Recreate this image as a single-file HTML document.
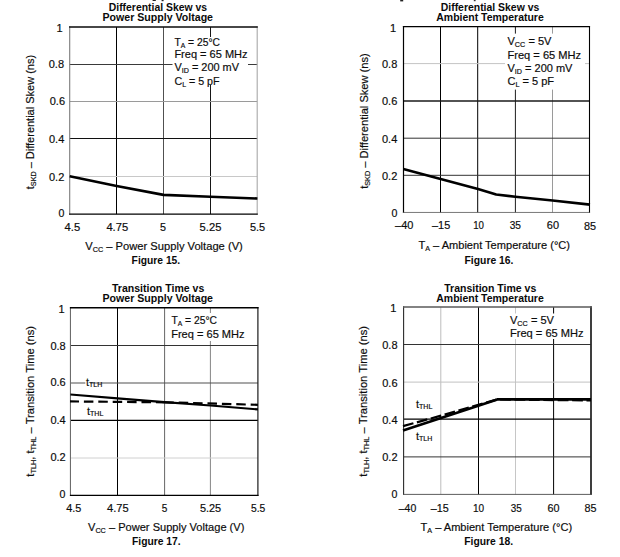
<!DOCTYPE html>
<html><head><meta charset="utf-8"><title>Figures 15-18</title>
<style>
html,body{margin:0;padding:0;background:#fff;}
svg{display:block;font-family:"Liberation Sans", sans-serif;}
text{fill:#0c0c0c}
.r{font-size:11px;stroke:#0c0c0c;stroke-width:0.18px}
.b{font-size:10.5px;font-weight:bold;fill:#0a0a0a}
.s{font-size:7.2px}
.cv{fill:none;stroke:#000;stroke-linejoin:round;stroke-linecap:butt}
</style></head><body>
<svg width="620" height="557" viewBox="0 0 620 557">
<rect width="620" height="557" fill="#fff"/>
<rect x="152.6" y="0" width="3.2" height="1" fill="#222"/><rect x="161.6" y="0" width="2" height="1.2" fill="#222"/>
<rect x="400.2" y="0" width="3" height="1.4" fill="#222"/><rect x="473.8" y="0" width="1.8" height="1.2" fill="#333"/>
<!-- Figure 15 -->
<line x1="116.5" y1="27.0" x2="116.5" y2="214.1" stroke="#000" stroke-width="1.0"/>
<line x1="163.5" y1="27.0" x2="163.5" y2="214.1" stroke="#505050" stroke-width="1.0"/>
<line x1="210.5" y1="27.0" x2="210.5" y2="214.1" stroke="#161616" stroke-width="1.0"/>
<line x1="69.7" y1="64.5" x2="257.2" y2="64.5" stroke="#3a3a3a" stroke-width="1.0"/>
<line x1="69.7" y1="101.5" x2="257.2" y2="101.5" stroke="#9a9a9a" stroke-width="1.0"/>
<line x1="69.7" y1="138.5" x2="257.2" y2="138.5" stroke="#101010" stroke-width="1.0"/>
<line x1="69.7" y1="176.5" x2="257.2" y2="176.5" stroke="#c8c8c8" stroke-width="1.0"/>
<rect x="172.5" y="37" width="75.5" height="48" fill="#fff"/>
<line x1="69.7" y1="26.25" x2="69.7" y2="214.75" stroke="#7c7c7c" stroke-width="1.1"/>
<line x1="257.2" y1="26.25" x2="257.2" y2="214.75" stroke="#a8a8a8" stroke-width="1.1"/>
<line x1="69.15" y1="27.0" x2="257.75" y2="27.0" stroke="#0a0a0a" stroke-width="1.5"/>
<line x1="69.15" y1="214.1" x2="257.75" y2="214.1" stroke="#000" stroke-width="1.3"/>
<text x="108.75" y="10.75" class="b" textLength="98.25" lengthAdjust="spacingAndGlyphs">Differential Skew vs</text>
<text x="102.5" y="20.75" class="b" textLength="110.5" lengthAdjust="spacingAndGlyphs">Power Supply Voltage</text>
<text x="64.6" y="230.5" class="r" textLength="15.6" lengthAdjust="spacingAndGlyphs">4.5</text>
<text x="106.4" y="230.5" class="r" textLength="21.8" lengthAdjust="spacingAndGlyphs">4.75</text>
<text x="160" y="230.5" class="r" textLength="6" lengthAdjust="spacingAndGlyphs">5</text>
<text x="199.6" y="230.5" class="r" textLength="21.8" lengthAdjust="spacingAndGlyphs">5.25</text>
<text x="250" y="230.5" class="r" textLength="15.2" lengthAdjust="spacingAndGlyphs">5.5</text>
<text x="62.5" y="31.6" class="r" text-anchor="end">1</text>
<text x="64" y="68" class="r" text-anchor="end">0.8</text>
<text x="65" y="105" class="r" text-anchor="end">0.6</text>
<text x="64.3" y="142.5" class="r" text-anchor="end">0.4</text>
<text x="64.3" y="180.6" class="r" text-anchor="end">0.2</text>
<text x="64.5" y="217.3" class="r" text-anchor="end" style="font-size:10.6px">0</text>
<text x="85.2" y="249.5" class="r" textLength="157.6" lengthAdjust="spacingAndGlyphs">V<tspan class="s" dy="2">CC</tspan><tspan dy="-2"> – Power Supply Voltage (V)</tspan></text>
<text x="131.6" y="264.1" class="b" textLength="48.6" lengthAdjust="spacingAndGlyphs">Figure 15.</text>
<text transform="translate(33.8,189.2) rotate(-90)" class="r" textLength="134.3" lengthAdjust="spacingAndGlyphs">t<tspan class="s" dy="2">SKD</tspan><tspan dy="-2"> – Differential Skew (ns)</tspan></text>
<path d="M69.7,176.2 L116.6,185.9 L163.5,194.9 L210.4,196.7 L257.4,198.5" class="cv" stroke-width="2.6"/>
<text x="174.4" y="45.7" class="r" textLength="45.6" lengthAdjust="spacingAndGlyphs">T<tspan class="s" dy="2">A</tspan><tspan dy="-2"> = 25°C</tspan></text>
<text x="174.4" y="58.4" class="r" textLength="73.2" lengthAdjust="spacingAndGlyphs">Freq = 65 MHz</text>
<text x="174.4" y="71.4" class="r" textLength="64.6" lengthAdjust="spacingAndGlyphs">V<tspan class="s" dy="2">ID</tspan><tspan dy="-2"> = 200 mV</tspan></text>
<text x="174.4" y="85.2" class="r" textLength="45.2" lengthAdjust="spacingAndGlyphs">C<tspan class="s" dy="2">L</tspan><tspan dy="-2"> = 5 pF</tspan></text>
<!-- Figure 16 -->
<line x1="440.5" y1="26.6" x2="440.5" y2="212.45" stroke="#000" stroke-width="1.0"/>
<line x1="477.7" y1="26.6" x2="477.7" y2="212.45" stroke="#000" stroke-width="1.0"/>
<line x1="515.4" y1="26.6" x2="515.4" y2="212.45" stroke="#1c1c1c" stroke-width="1.0"/>
<line x1="552.5" y1="26.6" x2="552.5" y2="212.45" stroke="#9a9a9a" stroke-width="1.0"/>
<line x1="403.5" y1="63.6" x2="589.5" y2="63.6" stroke="#c4c4c4" stroke-width="1.0"/>
<line x1="403.5" y1="101" x2="589.5" y2="101" stroke="#1a1a1a" stroke-width="1.4"/>
<line x1="403.5" y1="138.2" x2="589.5" y2="138.2" stroke="#333" stroke-width="1.0"/>
<line x1="403.5" y1="175.3" x2="589.5" y2="175.3" stroke="#333" stroke-width="1.0"/>
<rect x="505" y="33.6" width="80" height="55.99999999999999" fill="#fff"/>
<line x1="403.5" y1="26.0" x2="403.5" y2="212.85" stroke="#000" stroke-width="1.2"/>
<line x1="589.5" y1="26.0" x2="589.5" y2="212.85" stroke="#000" stroke-width="1.1"/>
<line x1="402.9" y1="26.6" x2="590.05" y2="26.6" stroke="#000" stroke-width="1.2"/>
<line x1="402.9" y1="212.45" x2="590.05" y2="212.45" stroke="#555" stroke-width="0.8"/>
<text x="440.75" y="10.75" class="b" textLength="98.5" lengthAdjust="spacingAndGlyphs">Differential Skew vs</text>
<text x="436.25" y="20.75" class="b" textLength="107.5" lengthAdjust="spacingAndGlyphs">Ambient Temperature</text>
<text x="395" y="229" class="r" textLength="18.4" lengthAdjust="spacingAndGlyphs">–40</text>
<text x="432" y="229" class="r" textLength="18.2" lengthAdjust="spacingAndGlyphs">–15</text>
<text x="473.2" y="229" class="r" textLength="10.8" lengthAdjust="spacingAndGlyphs">10</text>
<text x="509.7" y="229" class="r" textLength="11.3" lengthAdjust="spacingAndGlyphs">35</text>
<text x="546.8" y="229" class="r" textLength="12.2" lengthAdjust="spacingAndGlyphs">60</text>
<text x="583.9" y="229.8" class="r" textLength="12.1" lengthAdjust="spacingAndGlyphs">85</text>
<text x="396.2" y="31.6" class="r" text-anchor="end">1</text>
<text x="397.3" y="67.8" class="r" text-anchor="end">0.8</text>
<text x="397.3" y="105.2" class="r" text-anchor="end">0.6</text>
<text x="397.3" y="142.6" class="r" text-anchor="end">0.4</text>
<text x="397.3" y="180" class="r" text-anchor="end">0.2</text>
<text x="397.3" y="217" class="r" text-anchor="end" style="font-size:10.6px">0</text>
<text x="418.4" y="248.9" class="r" textLength="151.6" lengthAdjust="spacingAndGlyphs">T<tspan class="s" dy="2">A</tspan><tspan dy="-2"> – Ambient Temperature (°C)</tspan></text>
<text x="464.5" y="264.2" class="b" textLength="49" lengthAdjust="spacingAndGlyphs">Figure 16.</text>
<text transform="translate(368.3,188.8) rotate(-90)" class="r" textLength="135.5" lengthAdjust="spacingAndGlyphs">t<tspan class="s" dy="2">SKD</tspan><tspan dy="-2"> – Differential Skew (ns)</tspan></text>
<path d="M403.3,169 L440.6,178.9 L478,188.9 L496.2,194.5 L515.3,196.7 L552.6,200.5 L590,204.6" class="cv" stroke-width="2.6"/>
<text x="507.5" y="45.4" class="r" textLength="44" lengthAdjust="spacingAndGlyphs">V<tspan class="s" dy="2">CC</tspan><tspan dy="-2"> = 5V</tspan></text>
<text x="507.5" y="58.5" class="r" textLength="73.6" lengthAdjust="spacingAndGlyphs">Freq = 65 MHz</text>
<text x="507.5" y="71.6" class="r" textLength="64.9" lengthAdjust="spacingAndGlyphs">V<tspan class="s" dy="2">ID</tspan><tspan dy="-2"> = 200 mV</tspan></text>
<text x="507.5" y="85.3" class="r" textLength="46.6" lengthAdjust="spacingAndGlyphs">C<tspan class="s" dy="2">L</tspan><tspan dy="-2"> = 5 pF</tspan></text>
<!-- Figure 17 -->
<line x1="117.5" y1="307.8" x2="117.5" y2="495.4" stroke="#000" stroke-width="1.0"/>
<line x1="164.6" y1="307.8" x2="164.6" y2="495.4" stroke="#666" stroke-width="1.0"/>
<line x1="210.4" y1="307.8" x2="210.4" y2="495.4" stroke="#858585" stroke-width="1.0"/>
<line x1="70.45" y1="345.5" x2="257.9" y2="345.5" stroke="#333" stroke-width="1.0"/>
<line x1="70.45" y1="383.0" x2="257.9" y2="383.0" stroke="#505050" stroke-width="1.1"/>
<line x1="70.45" y1="420.4" x2="257.9" y2="420.4" stroke="#000" stroke-width="1.2"/>
<line x1="70.45" y1="458" x2="257.9" y2="458" stroke="#d0d0d0" stroke-width="1.0"/>
<rect x="168" y="313" width="79" height="28" fill="#fff"/>
<rect x="85.3" y="377" width="4.900000000000006" height="10" fill="#fff"/>
<line x1="70.45" y1="307.05" x2="70.45" y2="496.04999999999995" stroke="#6c6c6c" stroke-width="1.1"/>
<line x1="257.9" y1="307.05" x2="257.9" y2="496.04999999999995" stroke="#1c1c1c" stroke-width="1.2"/>
<line x1="69.9" y1="307.8" x2="258.5" y2="307.8" stroke="#000" stroke-width="1.5"/>
<line x1="69.9" y1="495.4" x2="258.5" y2="495.4" stroke="#000" stroke-width="1.3"/>
<text x="112" y="291.5" class="b" textLength="92.25" lengthAdjust="spacingAndGlyphs">Transition Time vs</text>
<text x="102.5" y="301.75" class="b" textLength="110.5" lengthAdjust="spacingAndGlyphs">Power Supply Voltage</text>
<text x="66.2" y="512" class="r" textLength="15.1" lengthAdjust="spacingAndGlyphs">4.5</text>
<text x="107" y="512" class="r" textLength="21.7" lengthAdjust="spacingAndGlyphs">4.75</text>
<text x="161.7" y="512" class="r" textLength="5.6" lengthAdjust="spacingAndGlyphs">5</text>
<text x="199.9" y="512" class="r" textLength="21.3" lengthAdjust="spacingAndGlyphs">5.25</text>
<text x="251" y="512" class="r" textLength="14.3" lengthAdjust="spacingAndGlyphs">5.5</text>
<text x="64.6" y="312.6" class="r" text-anchor="end">1</text>
<text x="65.7" y="349.5" class="r" text-anchor="end">0.8</text>
<text x="65.7" y="386.2" class="r" text-anchor="end">0.6</text>
<text x="65.7" y="423.9" class="r" text-anchor="end">0.4</text>
<text x="65.7" y="460.9" class="r" text-anchor="end">0.2</text>
<text x="65.5" y="498" class="r" text-anchor="end" style="font-size:10.6px">0</text>
<text x="88" y="530.75" class="r" textLength="156.4" lengthAdjust="spacingAndGlyphs">V<tspan class="s" dy="2">CC</tspan><tspan dy="-2"> – Power Supply Voltage (V)</tspan></text>
<text x="132" y="545" class="b" textLength="48.6" lengthAdjust="spacingAndGlyphs">Figure 17.</text>
<text transform="translate(34.2,476.7) rotate(-90)" class="r" textLength="150.8" lengthAdjust="spacingAndGlyphs">t<tspan class="s" dy="2">TLH</tspan><tspan dy="-2">, t</tspan><tspan class="s" dy="2">THL</tspan><tspan dy="-2"> – Transition Time (ns)</tspan></text>
<path d="M70.45,394.5 L117.5,398.4 L164.5,402.2 L210.5,405.5 L257.9,409.4" class="cv" stroke-width="2.2"/>
<path d="M70,401.4 L164.3,402.3" class="cv" stroke-width="2.2" stroke-dasharray="9.5 4.9" stroke-dashoffset="0.5"/>
<path d="M164.3,402.3 L257.9,404.8" class="cv" stroke-width="2.2" stroke-dasharray="9.5 4.9"/>
<text x="86" y="385.8" class="r">t<tspan style="font-size:7px" dy="1">TLH</tspan></text>
<text x="87" y="415" class="r">t<tspan style="font-size:7px" dy="1">THL</tspan></text>
<text x="171.4" y="324.3" class="r" textLength="45.6" lengthAdjust="spacingAndGlyphs">T<tspan class="s" dy="2">A</tspan><tspan dy="-2"> = 25°C</tspan></text>
<text x="171.2" y="337.7" class="r" textLength="73.4" lengthAdjust="spacingAndGlyphs">Freq = 65 MHz</text>
<!-- Figure 18 -->
<line x1="440.8" y1="307.0" x2="440.8" y2="494.4" stroke="#bdbdbd" stroke-width="1.0"/>
<line x1="478.5" y1="307.0" x2="478.5" y2="494.4" stroke="#000" stroke-width="1.0"/>
<line x1="515.5" y1="307.0" x2="515.5" y2="494.4" stroke="#c6c6c6" stroke-width="1.0"/>
<line x1="553.6" y1="307.0" x2="553.6" y2="494.4" stroke="#000" stroke-width="1.0"/>
<line x1="403.6" y1="344.5" x2="591" y2="344.5" stroke="#333" stroke-width="1.0"/>
<line x1="403.6" y1="382.1" x2="591" y2="382.1" stroke="#c2c2c2" stroke-width="1.0"/>
<line x1="403.6" y1="419.1" x2="591" y2="419.1" stroke="#000" stroke-width="1.1"/>
<line x1="403.6" y1="456.9" x2="591" y2="456.9" stroke="#333" stroke-width="1.0"/>
<rect x="508" y="313.5" width="78" height="25.5" fill="#fff"/>
<line x1="403.6" y1="306.35" x2="403.6" y2="494.84999999999997" stroke="#2a2a2a" stroke-width="1.1"/>
<line x1="591" y1="306.35" x2="591" y2="494.84999999999997" stroke="#2a2a2a" stroke-width="1.8"/>
<line x1="403.05" y1="307.0" x2="591.9" y2="307.0" stroke="#5a5a5a" stroke-width="1.3"/>
<line x1="403.05" y1="494.4" x2="591.9" y2="494.4" stroke="#4a4a4a" stroke-width="0.9"/>
<text x="444.25" y="291.5" class="b" textLength="92" lengthAdjust="spacingAndGlyphs">Transition Time vs</text>
<text x="436.25" y="301.75" class="b" textLength="107.5" lengthAdjust="spacingAndGlyphs">Ambient Temperature</text>
<text x="398.75" y="511.8" class="r" textLength="17.5" lengthAdjust="spacingAndGlyphs">–40</text>
<text x="430.75" y="511.8" class="r" textLength="18.0" lengthAdjust="spacingAndGlyphs">–15</text>
<text x="473" y="511.8" class="r" textLength="11.2" lengthAdjust="spacingAndGlyphs">10</text>
<text x="510.75" y="511.8" class="r" textLength="11.0" lengthAdjust="spacingAndGlyphs">35</text>
<text x="547.5" y="511.8" class="r" textLength="12.0" lengthAdjust="spacingAndGlyphs">60</text>
<text x="584.5" y="511.8" class="r" textLength="12.0" lengthAdjust="spacingAndGlyphs">85</text>
<text x="396.4" y="312.4" class="r" text-anchor="end">1</text>
<text x="397.5" y="349.3" class="r" text-anchor="end">0.8</text>
<text x="397.5" y="386.6" class="r" text-anchor="end">0.6</text>
<text x="397.5" y="423.8" class="r" text-anchor="end">0.4</text>
<text x="397.5" y="461.2" class="r" text-anchor="end">0.2</text>
<text x="397.3" y="498" class="r" text-anchor="end" style="font-size:10.6px">0</text>
<text x="420.5" y="530.6" class="r" textLength="151.6" lengthAdjust="spacingAndGlyphs">T<tspan class="s" dy="2">A</tspan><tspan dy="-2"> – Ambient Temperature (°C)</tspan></text>
<text x="464.25" y="544.5" class="b" textLength="48.8" lengthAdjust="spacingAndGlyphs">Figure 18.</text>
<text transform="translate(367.2,476.7) rotate(-90)" class="r" textLength="150.8" lengthAdjust="spacingAndGlyphs">t<tspan class="s" dy="2">TLH</tspan><tspan dy="-2">, t</tspan><tspan class="s" dy="2">THL</tspan><tspan dy="-2"> – Transition Time (ns)</tspan></text>
<path d="M403,430.5 L497.3,399.4 L591,399.4" class="cv" stroke-width="2.6"/>
<path d="M403,426.1 L441,415.7 L470,407.2 L497.3,399.4 L591,400.4" class="cv" stroke-width="2.3" stroke-dasharray="10.8 3.6"/>
<text x="416" y="408.2" class="r">t<tspan style="font-size:7px" dy="1">THL</tspan></text>
<text x="416" y="439.8" class="r">t<tspan style="font-size:7px" dy="1">TLH</tspan></text>
<text x="510" y="323.6" class="r" textLength="44" lengthAdjust="spacingAndGlyphs">V<tspan class="s" dy="2">CC</tspan><tspan dy="-2"> = 5V</tspan></text>
<text x="510" y="337" class="r" textLength="73.6" lengthAdjust="spacingAndGlyphs">Freq = 65 MHz</text>
</svg></body></html>
